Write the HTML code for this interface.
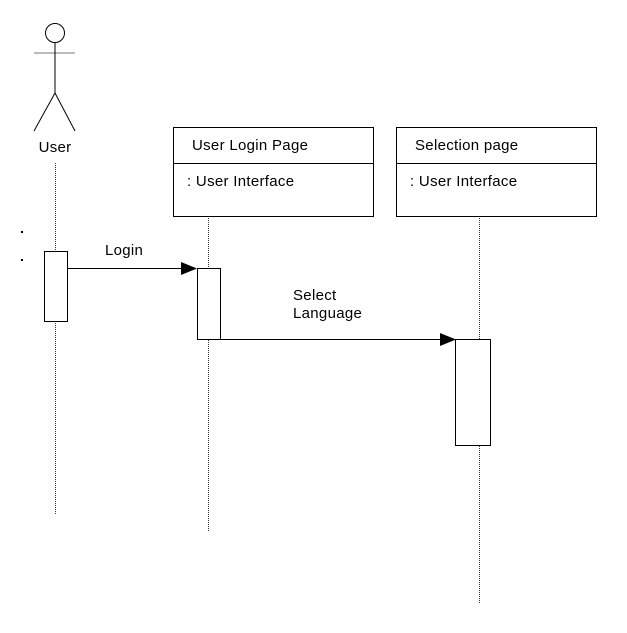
<!DOCTYPE html>
<html><head><style>body{margin:0;background:#fff}svg{display:block}text{font-family:"Liberation Sans",sans-serif;font-size:15px;letter-spacing:0.3px;fill:#000}</style></head>
<body>
<svg width="627" height="633" xmlns="http://www.w3.org/2000/svg">
<g stroke="#000" fill="none" stroke-width="1">
<circle cx="55" cy="33" r="9.5"/>
<line x1="34" y1="53" x2="75" y2="53" stroke="#777"/>
<line x1="55" y1="43" x2="55" y2="93"/>
<line x1="55" y1="93" x2="34" y2="131"/>
<line x1="55" y1="93" x2="75" y2="131"/>
<g stroke-dasharray="1,1" stroke="#333">
<line x1="55.5" y1="163" x2="55.5" y2="515"/>
<line x1="208.5" y1="216" x2="208.5" y2="532"/>
<line x1="479.5" y1="216" x2="479.5" y2="604"/>
</g>
<rect x="173.5" y="127.5" width="200" height="89" fill="#fff"/>
<line x1="173" y1="163.5" x2="374" y2="163.5"/>
<rect x="396.5" y="127.5" width="200" height="89" fill="#fff"/>
<line x1="396" y1="163.5" x2="597" y2="163.5"/>
<rect x="44.5" y="251.5" width="23" height="70" fill="#fff"/>
<rect x="197.5" y="268.5" width="23" height="71" fill="#fff"/>
<rect x="455.5" y="339.5" width="35" height="106" fill="#fff"/>
<line x1="67" y1="268.5" x2="183" y2="268.5"/>
<line x1="220" y1="339.5" x2="442" y2="339.5"/>
</g>
<polygon points="181,262 197,268.5 181,275" fill="#000"/>
<polygon points="440,333 456,339.5 440,346" fill="#000"/>
<rect x="21" y="231" width="2" height="2" fill="#000"/>
<rect x="21" y="259" width="2" height="2" fill="#000"/>
<text x="55" y="152" text-anchor="middle">User</text>
<text x="192" y="150">User Login Page</text>
<text x="187" y="186">: User Interface</text>
<text x="415" y="150">Selection page</text>
<text x="410" y="186">: User Interface</text>
<text x="105" y="255">Login</text>
<text x="293" y="300">Select</text>
<text x="293" y="318">Language</text>
</svg>
</body></html>
